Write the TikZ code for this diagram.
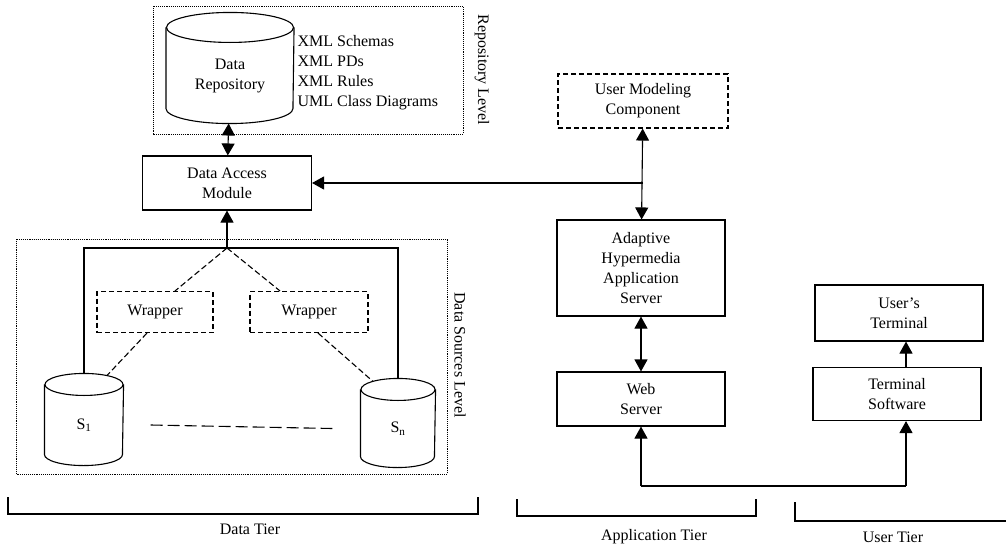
\documentclass[tikz,border=0pt]{standalone}
\usepackage{fontspec}
\setmainfont{Liberation Serif}
\usetikzlibrary{arrows.meta}
\tikzset{
	block/.style    = {draw, line width=1.1pt, rectangle, align=center, inner sep=2pt},
	dblock/.style   = {block, dash pattern=on 5pt off 3pt},
	store/.style    = {rectangle, align=center, inner sep=0pt},
	level/.style    = {draw, line width=0.9pt, densely dotted},
	lvltext/.style  = {rotate=-90},
	wrap/.style     = {line width=1.1pt, dash pattern=on 6pt off 3pt}
}
\newcommand{\boxfont}{\fontsize{16}{20}\selectfont}
% cylinder outline round a store node: #1 node, #2 x radius, #3 y radius
\newcommand{\drawcyl}[3]{%
	\draw (#1.north) ellipse [x radius=#2, y radius=#3];
	\draw (#1.north west) -- ([yshift=#3]#1.south west)
	arc [start angle=180, end angle=360, x radius=#2, y radius=#3] -- (#1.north east);
}

\begin{document}
\begin{tikzpicture}[x=1pt, y=-1pt, line width=1.1pt, >={Triangle[length=12pt,width=13pt]}, font=\boxfont]
	\useasboundingbox (0,0) rectangle (1006,546);
	
	\draw[level] (153,6) rectangle (463,134);
	\draw[level] (16,239) rectangle (447,474);
	
	\draw
	node at (230,75.5) [store, minimum width=127pt, minimum height=95pt] (repo) {Data\\Repository}
	node at (297,73) [anchor=west, align=left, inner sep=0pt] (xml) {XML Schemas\\XML PDs\\XML Rules\\UML Class Diagrams}
	node at (482,70) [lvltext] (rlevel) {Repository Level}
	node at (227,183) [block, minimum width=169pt, minimum height=54pt] (dam) {Data Access\\Module}
	node at (155,312) [dblock, minimum width=116pt, minimum height=41pt] (w1) {Wrapper}
	node at (309,312) [dblock, minimum width=118pt, minimum height=41pt] (w2) {Wrapper}
	node at (84,425) [store, minimum width=78pt, minimum height=80pt] (s1) {S\textsubscript{1}}
	node at (398,428.5) [store, minimum width=74pt, minimum height=77pt] (sn) {S\textsubscript{n}}
	node at (460,355) [lvltext] (dlevel) {Data Sources Level}
	node at (643,101) [dblock, minimum width=170pt, minimum height=54pt] (umc) {User Modeling\\Component}
	node at (641,268) [block, minimum width=168pt, minimum height=96pt] (ahas) {Adaptive\\Hypermedia\\Application\\Server}
	node at (641,399) [block, minimum width=168pt, minimum height=54pt] (web) {Web\\Server}
	node at (899,313) [block, minimum width=168pt, minimum height=56pt] (uterm) {User's\\Terminal}
	node at (897,394) [block, minimum width=168pt, minimum height=53pt] (tsoft) {Terminal\\Software};
	
	\drawcyl{repo}{63.5pt}{15pt}
	\drawcyl{s1}{39pt}{11pt}
	\drawcyl{sn}{37pt}{11pt}
	
	\coordinate (top) at (227,248);
	\coordinate (ju) at (umc.south |- dam.east);
	\coordinate (bl) at (641,486);
	\coordinate (br) at (906,486);
	
	\draw[<->](repo)--(dam);
	\draw[->](ju)--(dam);
	\draw[<->](umc)--(ahas);
	\draw[<->](ahas)--(web);
	\draw[->](tsoft.north -| br)--(uterm.south -| br);
	\draw[->](top)--(dam);
	\draw([yshift=11pt]s1.north)--(s1.north |- top)--(sn.north |- top)--([yshift=11pt]sn.north);
	\draw[wrap](top)--([xshift=20pt]w1.north);
	\draw[wrap](top)--([xshift=-29pt]w2.north);
	\draw[wrap]([xshift=-8pt]w1.south)--([xshift=23pt,yshift=9pt]s1.north);
	\draw[wrap]([xshift=9pt]w2.south)--([xshift=-25pt,yshift=8pt]sn.north);
	\draw[dash pattern=on 12pt off 5pt]([xshift=27pt]s1.east)--([xshift=-28pt]sn.west);
	\draw(bl)--(br);
	\draw[->](bl)--(bl |- web.south);
	\draw[->](br)--(br |- tsoft.south);
	
	\draw (8,497)--(8,514)--(478,514)--(478,497);
	\draw (517,499)--(517,516)--(756,516)--(756,499);
	\draw (795,502)--(795,521)--(1006,521);
	\draw
	node at (250,529) (dtier) {Data Tier}
	node at (654,537) (atier) {Application Tier}
	node at (893,537) (utier) {User Tier};
	
\end{tikzpicture}
\end{document}
